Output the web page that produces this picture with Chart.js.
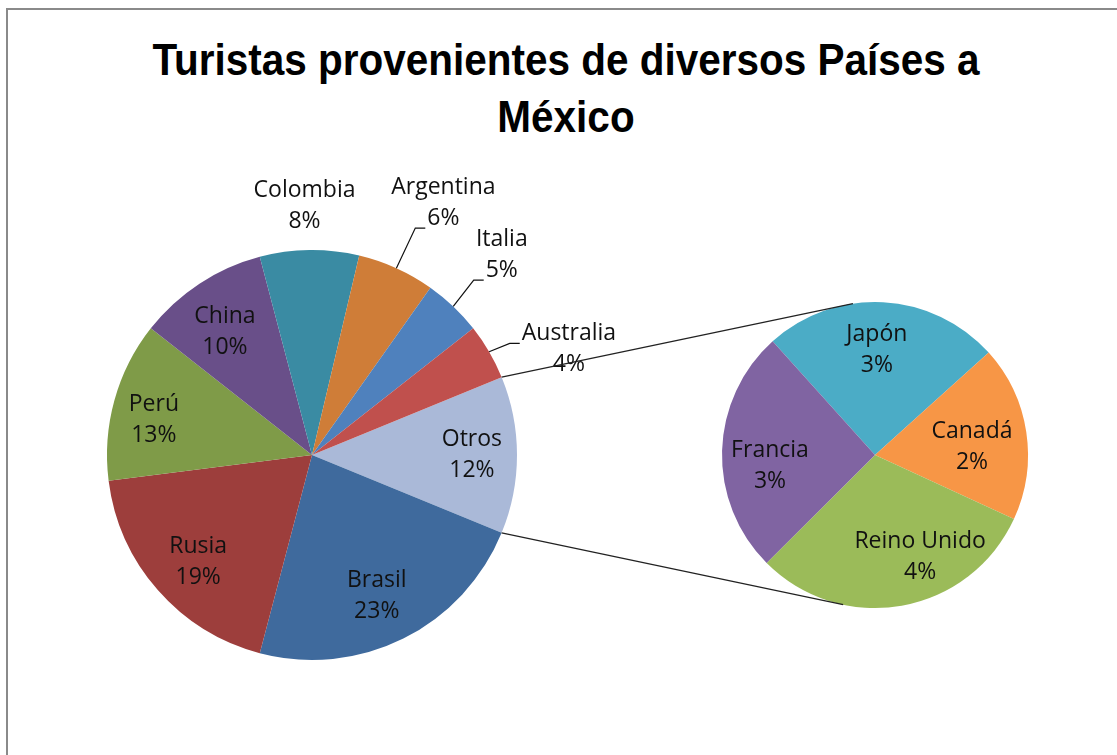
<!DOCTYPE html>
<html>
<head>
<meta charset="utf-8">
<script src="https://cdn.jsdelivr.net/npm/chart.js@4.4.1/dist/chart.umd.min.js"></script>
<style>
  html, body { margin: 0; padding: 0; background: #fff; overflow: hidden; }
  #wrap { position: relative; width: 1117px; height: 755px; overflow: hidden; background: #fff; }
  #frame { position: absolute; left: 6px; top: 8px; width: 1300px; height: 900px;
           border-left: 2px solid #8a8a8a; border-top: 2px solid #8a8a8a; }
  #title { position: absolute; left: 7px; width: 1118px; top: 31px; text-align: center;
           font-family: "Liberation Sans", Arial, sans-serif;
           font-weight: bold; font-size: 44px; line-height: 57px; color: #000;
           transform: scaleX(0.92); transform-origin: 559px 0; }
  canvas { position: absolute; left: 0; top: 0; }
</style>
</head>
<body>
<div id="wrap">
  <div id="frame"></div>
  <div id="title">Turistas provenientes de diversos Países a<br>México</div>
  <canvas id="mainPie" width="1117" height="755"></canvas>
  <canvas id="subPie" width="1117" height="755"></canvas>
</div>
<script>
// ---- data ----
const mainLabels = ['Otros', 'Brasil', 'Rusia', 'Perú', 'China', 'Colombia', 'Argentina', 'Italia', 'Australia'];
const mainValues = [12.4, 22.9, 18.9, 12.6, 10.3, 7.8, 6.1, 4.6, 4.4];
const mainColors = ['#AAB9D8', '#3F6A9D', '#9D3E3C', '#7F9B48', '#694F89', '#3A8BA3', '#CF7D38', '#4F81BD', '#C0504D'];

const subLabels = ['Japón', 'Canadá', 'Reino Unido', 'Francia'];
const subValues = [3.1, 2.3, 3.8, 3.2];
const subColors = ['#4BACC6', '#F79646', '#9BBB59', '#8064A2'];

const total = mainValues.reduce((a, b) => a + b, 0);

// ---- label drawing plugin (uses arc geometry from Chart.js) ----
const sliceLabels = {
  id: 'sliceLabels',
  afterDatasetsDraw(chart, args, opts) {
    const ctx = chart.ctx;
    const meta = chart.getDatasetMeta(0);
    const ds = chart.data.datasets[0];
    ctx.save();
    ctx.font = opts.font;
    ctx.fillStyle = '#111';
    ctx.strokeStyle = '#111';
    ctx.lineWidth = 1.2;
    ctx.textAlign = 'center';
    ctx.textBaseline = 'middle';
    const lh = opts.lineHeight;
    meta.data.forEach((arc, i) => {
      const p = arc.getProps(['x', 'y', 'startAngle', 'endAngle', 'outerRadius'], true);
      const mid = (p.startAngle + p.endAngle) / 2;
      const pl = opts.placement[i] || { r: 0.75, da: 0 };
      const ang = mid + (pl.da || 0) * Math.PI / 180;
      const cx = p.x + Math.cos(ang) * p.outerRadius * pl.r;
      const cy = p.y + Math.sin(ang) * p.outerRadius * pl.r;
      const lines = [chart.data.labels[i], Math.round(ds.data[i] / total * 100) + '%'];
      const y0 = cy - lh / 2;
      lines.forEach((t, k) => ctx.fillText(t, cx, y0 + k * lh));
      if (pl.leader !== undefined) {
        const k = pl.leader;
        const w = ctx.measureText(lines[k]).width;
        const ex = cx - w / 2 - 2, ey = y0 + k * lh + 10;
        const sx = p.x + Math.cos(mid) * p.outerRadius;
        const sy = p.y + Math.sin(mid) * p.outerRadius;
        ctx.beginPath();
        ctx.moveTo(sx, sy);
        ctx.lineTo(ex - 10, ey);
        ctx.lineTo(ex, ey);
        ctx.stroke();
      }
    });
    ctx.restore();
  }
};

const mainChart = new Chart(document.getElementById('mainPie'), {
  type: 'pie',
  data: {
    labels: mainLabels,
    datasets: [{ data: mainValues, backgroundColor: mainColors, borderWidth: 0 }]
  },
  options: {
    responsive: false,
    animation: false,
    rotation: 90 - (mainValues[0] / total * 360) / 2,
    layout: { padding: { left: 107, right: 600, top: 250, bottom: 95 } },
    plugins: {
      legend: { display: false },
      tooltip: { enabled: false },
      sliceLabels: {
        font: '23px "Open Sans", "Liberation Sans", sans-serif',
        lineHeight: 31,
        placement: [
          { r: 0.78, da: 0 },
          { r: 0.757, da: 1.8 },
          { r: 0.762, da: -2 },
          { r: 0.79, da: -3 },
          { r: 0.735, da: -2 },
          { r: 1.215, da: -1 },
          { r: 1.388, da: 3.2, leader: 1 },
          { r: 1.346, da: -0.1, leader: 1 },
          { r: 1.356, da: 7.8, leader: 0 }
        ]
      }
    }
  },
  plugins: [sliceLabels]
});

// connector lines from the "Otros" slice to the secondary pie
const connectors = {
  id: 'connectors',
  afterDatasetsDraw(chart, args, opts) {
    const src = mainChart.getDatasetMeta(0).data[0].getProps(['x', 'y', 'startAngle', 'endAngle', 'outerRadius'], true);
    const dst = chart.getDatasetMeta(0).data[0].getProps(['x', 'y', 'outerRadius'], true);
    const ctx = chart.ctx;
    ctx.save();
    ctx.strokeStyle = '#222';
    ctx.lineWidth = 1.2;
    const ends = [src.startAngle, src.endAngle];
    opts.targetAngles.forEach((ta, j) => {
      const a = ends[j];
      const t = ta * Math.PI / 180;
      ctx.beginPath();
      ctx.moveTo(src.x + Math.cos(a) * src.outerRadius, src.y + Math.sin(a) * src.outerRadius);
      ctx.lineTo(dst.x + Math.cos(t) * dst.outerRadius, dst.y + Math.sin(t) * dst.outerRadius);
      ctx.stroke();
    });
    ctx.restore();
  }
};

const subChart = new Chart(document.getElementById('subPie'), {
  type: 'pie',
  data: {
    labels: subLabels,
    datasets: [{ data: subValues, backgroundColor: subColors, borderWidth: 0 }]
  },
  options: {
    responsive: false,
    animation: false,
    rotation: 318,
    layout: { padding: { left: 722, right: 89, top: 302, bottom: 147 } },
    plugins: {
      legend: { display: false },
      tooltip: { enabled: false },
      connectors: { targetAngles: [-98.3, 102] },
      sliceLabels: {
        font: '23px "Open Sans", "Liberation Sans", sans-serif',
        lineHeight: 31,
        placement: [
          { r: 0.686, da: -2 },
          { r: 0.636, da: 3.9 },
          { r: 0.729, da: -13.8 },
          { r: 0.69, da: -7.5 }
        ]
      }
    }
  },
  plugins: [connectors, sliceLabels]
});
</script>
</body>
</html>
